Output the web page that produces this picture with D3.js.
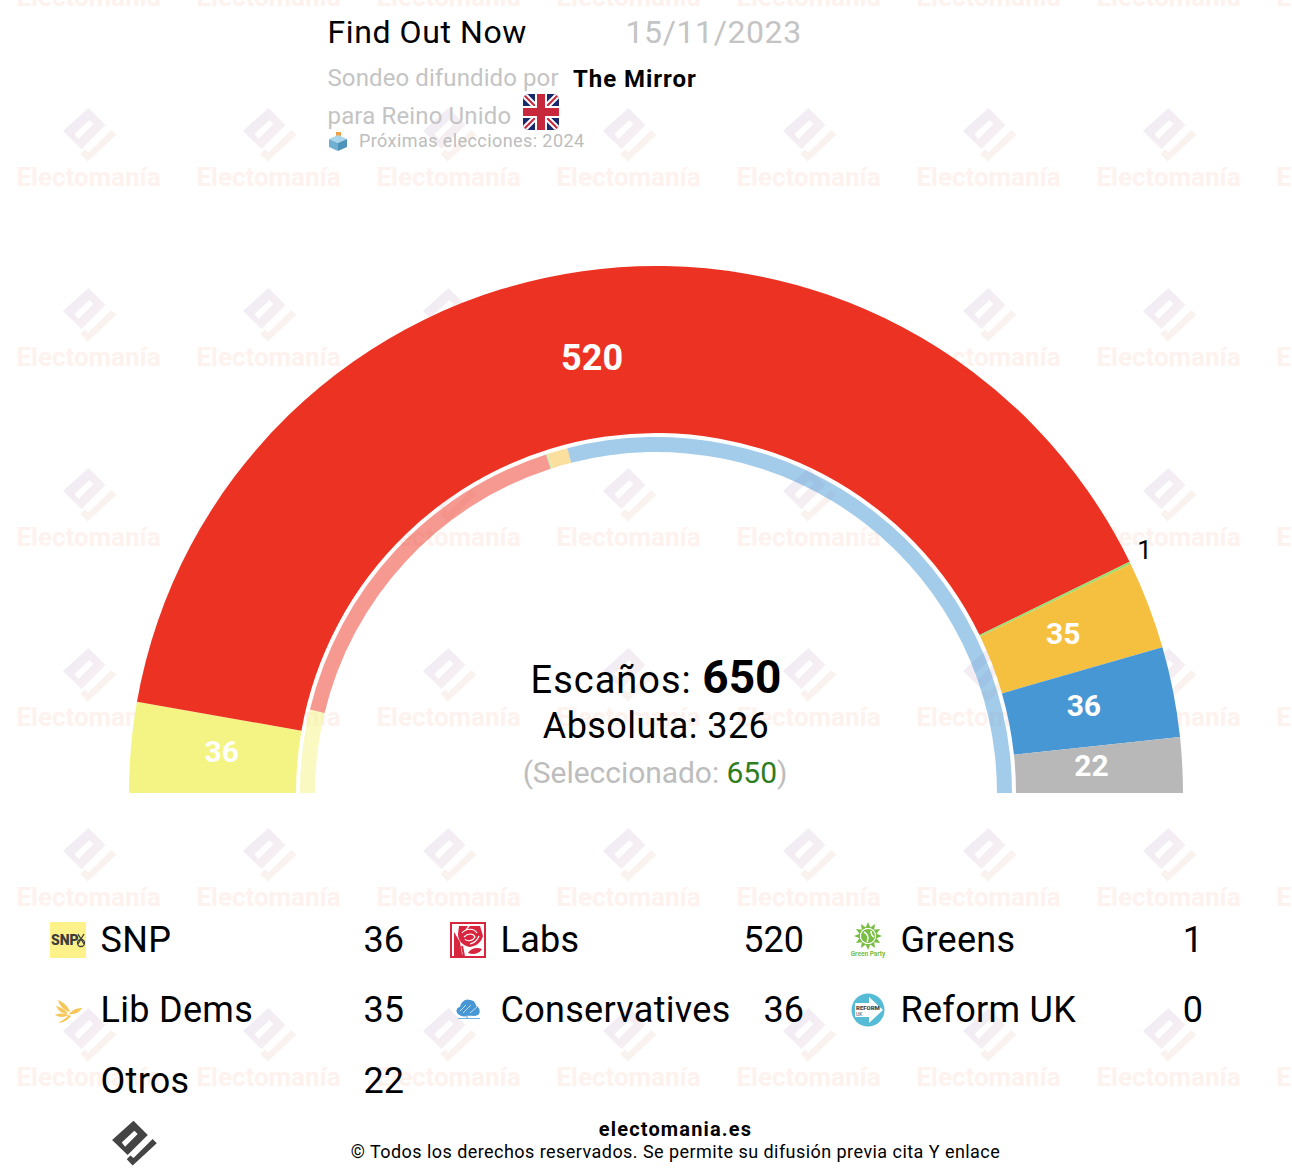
<!DOCTYPE html>
<html lang="es">
<head>
<meta charset="utf-8">
<title>Find Out Now - Electomania</title>
<script src="https://d3js.org/d3.v7.min.js"></script>
<style>
  html, body { margin: 0; background: #fff; }
  svg { display: block; }
  text { font-family: Roboto, sans-serif; }
</style>
</head>
<body>
<div id="chart"></div>
<script>
// seats, same order as the arc
const parties = ["SNP", "Labs", "Greens", "Lib Dems", "Conservatives", "Otros"];
const seats = [36, 520, 1, 35, 36, 22];
const prevSeats = [49, 211, 1, 12, 377, 0];
const colors = ["#f4f484", "#ec3323", "#9bdc6c", "#f5bf40", "#4797d5", "#b8b8b8"];

// legend is laid out in its own order
const legendNames = ["SNP", "Lib Dems", "Otros", "Labs", "Conservatives", "", "Greens", "Reform UK", ""];
const legendSeats = [36, 35, 22, 520, 36, "", 1, 0, ""];

const width = 1292, height = 1176;
const cx = 656, cy = 793;

const svg = d3.select("#chart").append("svg")
  .attr("width", width)
  .attr("height", height);

// watermark gradient
const defs = svg.append("defs");
const wmGrad = defs.append("linearGradient").attr("id", "wmGrad")
  .attr("x1", "0").attr("y1", "0").attr("x2", "1").attr("y2", "1");
wmGrad.append("stop").attr("offset", "0").attr("stop-color", "#efeaf6");
wmGrad.append("stop").attr("offset", "1").attr("stop-color", "#f8f0f0");

// electomania logo, around 0,0
const logoPath = "M0,-29L17,-12L-7,12L-25.5,-6Z M-14,-3L-10,2L5,-13L1,-17Z";
const tailPath = "M-8,17L-1,24.4L27.7,-2L22.8,-7L0,15.5L-3.7,12.6Z";

// watermark tiles
const wm = svg.append("g").attr("class", "watermark");
d3.range(0, 8).forEach(i => {
  d3.range(0, 7).forEach(j => {
    const g = wm.append("g").attr("transform", `translate(${88.5 + i * 180},${-43 + j * 180})`);
    g.append("path").attr("d", logoPath).attr("fill", "url(#wmGrad)").attr("fill-rule", "evenodd");
    g.append("path").attr("d", tailPath).attr("fill", "#faf2ee");
    g.append("text").attr("y", 49).attr("text-anchor", "middle")
      .style("font-size", "26px").style("font-weight", 700)
      .attr("fill", "#fdf2ee").text("Electomanía");
  });
});

// header
const txt = (x, y, size, color, s, weight) => svg.append("text")
  .attr("x", x).attr("y", y)
  .style("font-size", size + "px")
  .style("font-weight", weight || 400)
  .attr("fill", color)
  .text(s);

txt(327.5, 43, 32, "#000", "Find Out Now").style("letter-spacing", "0.6px");
txt(625.5, 43, 32, "#c4c4c4", "15/11/2023").style("letter-spacing", "0.6px");
txt(327.5, 86, 24, "#c4c4c4", "Sondeo difundido por").style("letter-spacing", "0.1px");
txt(573, 87, 24, "#000", "The Mirror", 700).style("letter-spacing", "0.95px");
txt(327.5, 124, 24, "#c4c4c4", "para Reino Unido").style("letter-spacing", "0.15px");
txt(359, 147, 18, "#bdbdbd", "Próximas elecciones: 2024").style("letter-spacing", "0.42px");

// flag
const flag = svg.append("g").attr("transform", "translate(523,94)");
defs.append("clipPath").attr("id", "flagClip").append("rect")
  .attr("width", 36).attr("height", 36).attr("rx", 6);
const fl = flag.append("g").attr("clip-path", "url(#flagClip)");
fl.append("rect").attr("width", 36).attr("height", 36).attr("fill", "#1a2a6c");
fl.append("path").attr("d", "M0,0L36,36M36,0L0,36").attr("stroke", "#fff").attr("stroke-width", 6);
fl.append("path").attr("d", "M0,0L36,36M36,0L0,36").attr("stroke", "#c8283c").attr("stroke-width", 2);
fl.append("path").attr("d", "M18,0V36M0,18H36").attr("stroke", "#fff").attr("stroke-width", 12);
fl.append("path").attr("d", "M18,0V36M0,18H36").attr("stroke", "#c8283c").attr("stroke-width", 8);

// ballot box
const box = svg.append("g").attr("transform", "translate(329,132)");
box.append("rect").attr("x", 7).attr("width", 5).attr("height", 7).attr("fill", "#eda24a");
box.append("path").attr("d", "M0,7L9,3L18,7L9,11Z").attr("fill", "#a9d6ec");
box.append("path").attr("d", "M0,7L9,11V19L0,15Z").attr("fill", "#6fb0d2");
box.append("path").attr("d", "M18,7L9,11V19L18,15Z").attr("fill", "#4f93b9");

// half circle arcs
const pie = d3.pie().sort(null).value(d => d)
  .startAngle(-Math.PI / 2).endAngle(Math.PI / 2);
const arcMain = d3.arc().innerRadius(360).outerRadius(527);
const arcPrev = d3.arc().innerRadius(341).outerRadius(356);

const plot = svg.append("g").attr("transform", `translate(${cx},${cy})`);

plot.selectAll(".prev")
  .data(pie(prevSeats))
  .enter().append("path")
  .attr("class", "prev")
  .attr("d", arcPrev)
  .attr("fill", (d, i) => colors[i])
  .attr("opacity", 0.5);

plot.selectAll(".seat")
  .data(pie(seats))
  .enter().append("path")
  .attr("class", "seat")
  .attr("d", arcMain)
  .attr("fill", (d, i) => colors[i]);

// seat labels, small ones go outside in black
const labelArc = d3.arc().innerRadius(436).outerRadius(436);
const outArc = d3.arc().innerRadius(543).outerRadius(543);
plot.selectAll(".label")
  .data(pie(seats))
  .enter().append("text")
  .attr("class", "label")
  .attr("transform", d => {
    const c = d.value < 5 ? outArc.centroid(d) : labelArc.centroid(d);
    return `translate(${c[0] - (d.value > 100 ? 3 : 0)},${c[1] - (d.value < 5 ? 6 : 4)})`;
  })
  .attr("dy", "0.35em")
  .attr("text-anchor", "middle")
  .style("font-size", d => d.value < 5 ? "26px" : (d.value > 100 ? "36px" : "30px"))
  .style("font-weight", d => d.value < 5 ? 400 : 700)
  .attr("fill", d => d.value < 5 ? "#000" : "#fff")
  .text(d => d.value);

// center text
const center = svg.append("text").attr("x", cx).attr("y", 693)
  .attr("text-anchor", "middle").style("font-size", "38px");
center.append("tspan").style("letter-spacing", "1px").text("Escaños: ");
center.append("tspan").style("font-weight", 700).style("font-size", "46px").text(d3.sum(seats));

svg.append("text").attr("x", cx).attr("y", 738).attr("text-anchor", "middle")
  .style("font-size", "36px").style("letter-spacing", "0.4px").text("Absoluta: 326");

const sel = svg.append("text").attr("x", cx - 1).attr("y", 783).attr("text-anchor", "middle")
  .style("font-size", "30px").style("letter-spacing", "-0.05px").attr("fill", "#bdbdbd");
sel.append("tspan").text("(Seleccionado: ");
sel.append("tspan").attr("fill", "#2e7d1e").text("650");
sel.append("tspan").text(")");

// party icons, 36px box
const icons = {
  "SNP": g => {
    g.append("rect").attr("width", 36).attr("height", 36).attr("fill", "#fdf28a");
    g.append("text").attr("x", 1).attr("y", 23).style("font-size", "14px").style("font-weight", 900)
      .attr("fill", "#3d3d3d").text("SNP");
    g.append("path").attr("d", "M28,12L34,22M34,12L28,22").attr("stroke", "#3d3d3d").attr("stroke-width", 1.3);
    g.append("circle").attr("cx", 31).attr("cy", 21).attr("r", 3.5).attr("fill", "none").attr("stroke", "#3d3d3d").attr("stroke-width", 1.3);
  },
  "Labs": g => {
    g.append("rect").attr("width", 36).attr("height", 36).attr("fill", "#d8263f");
    g.append("rect").attr("x", 2).attr("y", 2).attr("width", 32).attr("height", 32).attr("fill", "#fff");
    g.append("path").attr("d", "M9,4H30L33,14C31,21 26,24 20,25C13,24 8,19 8,12Z").attr("fill", "#d8263f");
    g.append("path").attr("d", "M12,11C16,6 24,6 27,11M14,15C18,11 23,11 25,15C23,19 17,20 15,17M20,3C18,5 17,6 16,8M29,14C27,19 24,21 20,22")
      .attr("fill", "none").attr("stroke", "#fff").attr("stroke-width", 1.2);
    g.append("path").attr("d", "M4,10L10,20L12,32L14,34H4Z").attr("fill", "#d8263f");
    g.append("path").attr("d", "M12,24L14,34").attr("stroke", "#d8263f").attr("stroke-width", 2);
    g.append("path").attr("d", "M18,31C21,26 27,25 32,27C29,32 23,33 18,31Z").attr("fill", "#d8263f");
  },
  "Greens": g => {
    const rays = d3.range(0, 12).map(i => i * 30);
    g.selectAll(".ray").data(rays).enter().append("path").attr("class", "ray")
      .attr("transform", d => `translate(18,14) rotate(${d})`)
      .attr("d", "M-2.5,-8L0,-14L2.5,-8Z").attr("fill", "#79bd44");
    g.append("circle").attr("cx", 18).attr("cy", 14).attr("r", 7).attr("fill", "#79bd44");
    g.append("path").attr("d", "M14,10C18,12 19,16 17,20M21,9C21,12 22,14 24,15")
      .attr("fill", "none").attr("stroke", "#fff").attr("stroke-width", 1.5);
    g.append("text").attr("x", 18).attr("y", 34).attr("text-anchor", "middle")
      .style("font-size", "6.5px").style("font-weight", 700).attr("fill", "#79bd44").text("Green Party");
  },
  "Lib Dems": g => {
    const feather = "#f6c65a";
    g.append("path").attr("d", "M8,8C13,10 18,14 20,20C15,19 10,15 8,8Z").attr("fill", feather);
    g.append("path").attr("d", "M6,14C10,15 15,17 18,22C13,22 8,19 6,14Z").attr("fill", feather);
    g.append("path").attr("d", "M32,16C27,16 22,18 19,22C24,23 29,21 32,16Z").attr("fill", feather);
    g.append("path").attr("d", "M5,23C9,21 14,21 19,23C15,25 10,26 5,23Z").attr("fill", feather);
    g.append("path").attr("d", "M19,23C16,26 12,29 8,31C13,31 18,28 21,24Z").attr("fill", feather);
  },
  "Conservatives": g => {
    g.append("path").attr("d", "M8,22C5,19 7,15 10,15C11,10 16,6 20,8C24,8 26,12 26,14C30,15 31,21 28,23C24,25 20,23 17,24C14,25 10,24 8,22Z")
      .attr("fill", "#4797d5");
    g.append("path").attr("d", "M17,23L17,26M8,26.5H30").attr("stroke", "#6fb0e0").attr("stroke-width", 1.2);
    g.append("path").attr("d", "M10,19L16,13M13,21L21,13M20,21L27,15").attr("stroke", "#fff").attr("stroke-width", 0.7);
  },
  "Reform UK": g => {
    g.append("circle").attr("cx", 18).attr("cy", 18).attr("r", 16.5).attr("fill", "#56bcd6");
    g.append("path").attr("d", "M5,11H19V5L33,18L19,31V25H5Z").attr("fill", "#fff");
    g.append("text").attr("x", 6).attr("y", 18).style("font-size", "6px").style("font-weight", 900)
      .attr("fill", "#444").text("REFORM");
    g.append("text").attr("x", 6).attr("y", 24).style("font-size", "5px").attr("fill", "#444").text("UK");
  }
};

// legend, three columns of three rows
const colIcon = [50, 450, 850], colText = [100.5, 500.5, 900.5], colValue = [404, 804, 1203];
const rowY = [952, 1022, 1093];
const legend = svg.append("g").attr("class", "legend");
legendNames.forEach((name, i) => {
  if (!name) return;
  const c = Math.floor(i / 3), r = i % 3;
  if (icons[name]) {
    icons[name](legend.append("g").attr("transform", `translate(${colIcon[c]},${rowY[r] - 30})`));
  }
  legend.append("text").attr("x", colText[c]).attr("y", rowY[r])
    .style("font-size", "36px").style("letter-spacing", "0.3px").text(name);
  legend.append("text").attr("x", colValue[c]).attr("y", rowY[r]).attr("text-anchor", "end")
    .style("font-size", "36px").text(legendSeats[i]);
});

// footer
const footLogo = svg.append("g").attr("transform", "translate(133.5,1145) scale(0.84)");
footLogo.append("path").attr("d", logoPath).attr("fill", "#444").attr("fill-rule", "evenodd");
footLogo.append("path").attr("d", tailPath).attr("fill", "#444");
svg.append("text").attr("x", 675.5).attr("y", 1136).attr("text-anchor", "middle")
  .style("font-size", "20px").style("font-weight", 700).style("letter-spacing", "1.15px").text("electomania.es");
svg.append("text").attr("x", 675.5).attr("y", 1158).attr("text-anchor", "middle")
  .style("font-size", "18px").style("letter-spacing", "0.45px")
  .text("© Todos los derechos reservados. Se permite su difusión previa cita Y enlace");
</script>
</body>
</html>
